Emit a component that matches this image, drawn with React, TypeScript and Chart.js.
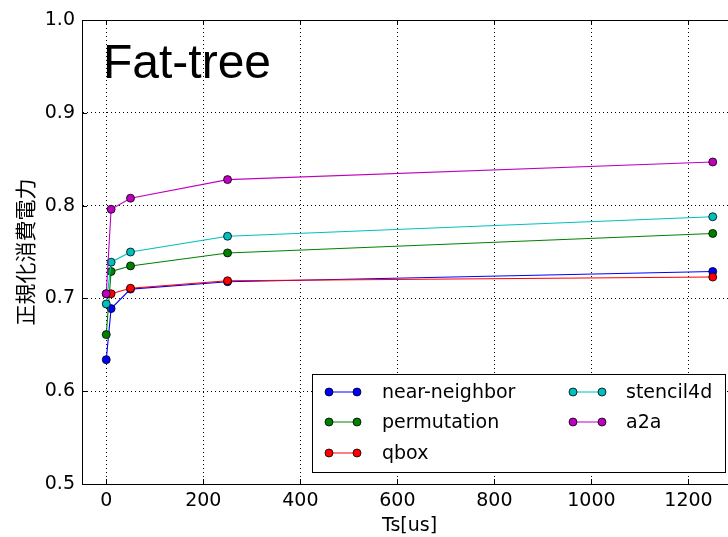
import React, { useEffect, useRef } from "react";
import { Chart, registerables } from "chart.js";
Chart.register(...registerables);

const tsValues = [0, 10, 50, 250, 1250];
const seriesNames = ["near-neighbor", "permutation", "qbox", "stencil4d", "a2a"];
const nearNeighbor = [0.634, 0.689, 0.71, 0.718, 0.729];
const permutation = [0.661, 0.729, 0.735, 0.749, 0.77];
const qbox = [0.705, 0.705, 0.711, 0.719, 0.723];
const stencil4d = [0.694, 0.739, 0.75, 0.767, 0.788];
const a2a = [0.705, 0.796, 0.808, 0.828, 0.847];
const seriesValues = [nearNeighbor, permutation, qbox, stencil4d, a2a];
const seriesColors = ["#0000ff", "#008000", "#ff0000", "#00bfbf", "#bf00bf"];
const xTicks = [0, 200, 400, 600, 800, 1000, 1200];
const yTicks = [0.5, 0.6, 0.7, 0.8, 0.9, 1.0];
const chartTitle = "Fat-tree";
const xTitle = "Ts[us]";
const yTitle = "正規化消費電力";

const FONT = "'DejaVu Sans', sans-serif";

const decorPlugin = {
  id: "decor",
  afterDraw(chart: any) {
    const ctx = chart.ctx;
    const { left, right, top, bottom } = chart.chartArea;
    const xs = chart.scales.x;
    const ys = chart.scales.y;
    ctx.save();
    // frame
    ctx.strokeStyle = "#000";
    ctx.lineWidth = 1;
    ctx.setLineDash([]);
    ctx.strokeRect(Math.round(left) + 0.5, Math.round(top) + 0.5, Math.round(right - left), Math.round(bottom - top));
    // inward ticks
    ctx.beginPath();
    xTicks.forEach((v) => {
      const px = Math.round(xs.getPixelForValue(v)) + 0.5;
      ctx.moveTo(px, bottom);
      ctx.lineTo(px, bottom - 5);
      ctx.moveTo(px, top);
      ctx.lineTo(px, top + 5);
    });
    yTicks.forEach((v) => {
      const py = Math.round(ys.getPixelForValue(v)) + 0.5;
      ctx.moveTo(left, py);
      ctx.lineTo(left + 5, py);
      ctx.moveTo(right, py);
      ctx.lineTo(right - 5, py);
    });
    ctx.stroke();
    // title text
    ctx.fillStyle = "#000";
    ctx.font = "48px 'Liberation Sans', Arial, sans-serif";
    ctx.textAlign = "left";
    ctx.textBaseline = "alphabetic";
    ctx.fillText(chartTitle, 103, 78);
    // legend
    const bx = 312.5, by = 374.5, bw = 413, bh = 98;
    ctx.fillStyle = "#fff";
    ctx.fillRect(bx, by, bw, bh);
    ctx.strokeStyle = "#000";
    ctx.lineWidth = 1;
    ctx.strokeRect(bx, by, bw, bh);
    const rows = [392, 422, 453];
    const cols = [{ l: 329, r: 357, t: 382 }, { l: 573, r: 602, t: 626 }];
    ctx.font = "19px " + FONT;
    ctx.textBaseline = "middle";
    chart.data.datasets.forEach((ds: any, i: number) => {
      const c = cols[Math.floor(i / 3)];
      const y = rows[i % 3];
      ctx.strokeStyle = ds.borderColor;
      ctx.lineWidth = 1;
      ctx.beginPath();
      ctx.moveTo(c.l, y);
      ctx.lineTo(c.r, y);
      ctx.stroke();
      [c.l, c.r].forEach((px) => {
        ctx.beginPath();
        ctx.arc(px, y, 4, 0, Math.PI * 2);
        ctx.fillStyle = ds.backgroundColor;
        ctx.fill();
        ctx.strokeStyle = "#000";
        ctx.lineWidth = 0.8;
        ctx.stroke();
      });
      ctx.fillStyle = "#000";
      ctx.fillText(ds.label, c.t, y + 1);
    });
    ctx.restore();
  },
};

export default function App() {
  const ref = useRef<HTMLCanvasElement | null>(null);
  useEffect(() => {
    if (!ref.current) return;
    const chart = new Chart(ref.current, {
      type: "line",
      data: {
        datasets: seriesNames.map((name, i) => ({
          label: name,
          data: tsValues.map((x, j) => ({ x, y: seriesValues[i][j] })),
          borderColor: seriesColors[i],
          backgroundColor: seriesColors[i],
          pointBackgroundColor: seriesColors[i],
          pointBorderColor: "#000",
          pointBorderWidth: 0.8,
          pointRadius: 4,
          borderWidth: 1.1,
          tension: 0,
          order: seriesNames.length - i,
        })),
      },
      plugins: [decorPlugin],
      options: {
        responsive: false,
        animation: false,
        layout: { padding: { left: 0, top: 20, right: 23, bottom: 0 } },
        plugins: { legend: { display: false }, tooltip: { enabled: false }, title: { display: false } },
        scales: {
          x: {
            type: "linear",
            min: -50,
            max: 1300,
            afterBuildTicks: (s: any) => {
              s.ticks = xTicks.map((v) => ({ value: v }));
            },
            afterFit: (s: any) => {
              s.height = 53;
            },
            grid: { color: "#000", lineWidth: 1, drawTicks: false },
            border: { display: true, color: "#000", width: 1, dash: [1, 3] },
            ticks: {
              color: "#000",
              font: { family: FONT, size: 19 },
              padding: 6,
              maxRotation: 0,
              callback: (v: any) => String(v),
            },
            title: { display: true, text: xTitle, color: "#000", font: { family: FONT, size: 19 }, padding: { top: 0, bottom: 0 } },
          },
          y: {
            type: "linear",
            min: 0.5,
            max: 1.0,
            afterBuildTicks: (s: any) => {
              s.ticks = yTicks.map((v) => ({ value: v }));
            },
            afterFit: (s: any) => {
              s.width = 82;
            },
            grid: { color: "#000", lineWidth: 1, drawTicks: false },
            border: { display: true, color: "#000", width: 1, dash: [1, 3] },
            ticks: {
              color: "#000",
              font: { family: FONT, size: 19 },
              padding: 7,
              callback: (v: any) => Number(v).toFixed(1),
            },
            title: {
              display: true,
              text: yTitle,
              color: "#000",
              font: { family: "'Noto Sans CJK JP', sans-serif", size: 21 },
              padding: { top: 12, bottom: 0 },
            },
          },
        },
      },
    });
    return () => chart.destroy();
  }, []);
  return (
    <div style={{ position: "fixed", left: 0, top: 0, width: 728, height: 537, overflow: "hidden", background: "#fff" }}>
      <canvas ref={ref} width={760} height={537} style={{ display: "block", width: 760, height: 537 }} />
    </div>
  );
}
